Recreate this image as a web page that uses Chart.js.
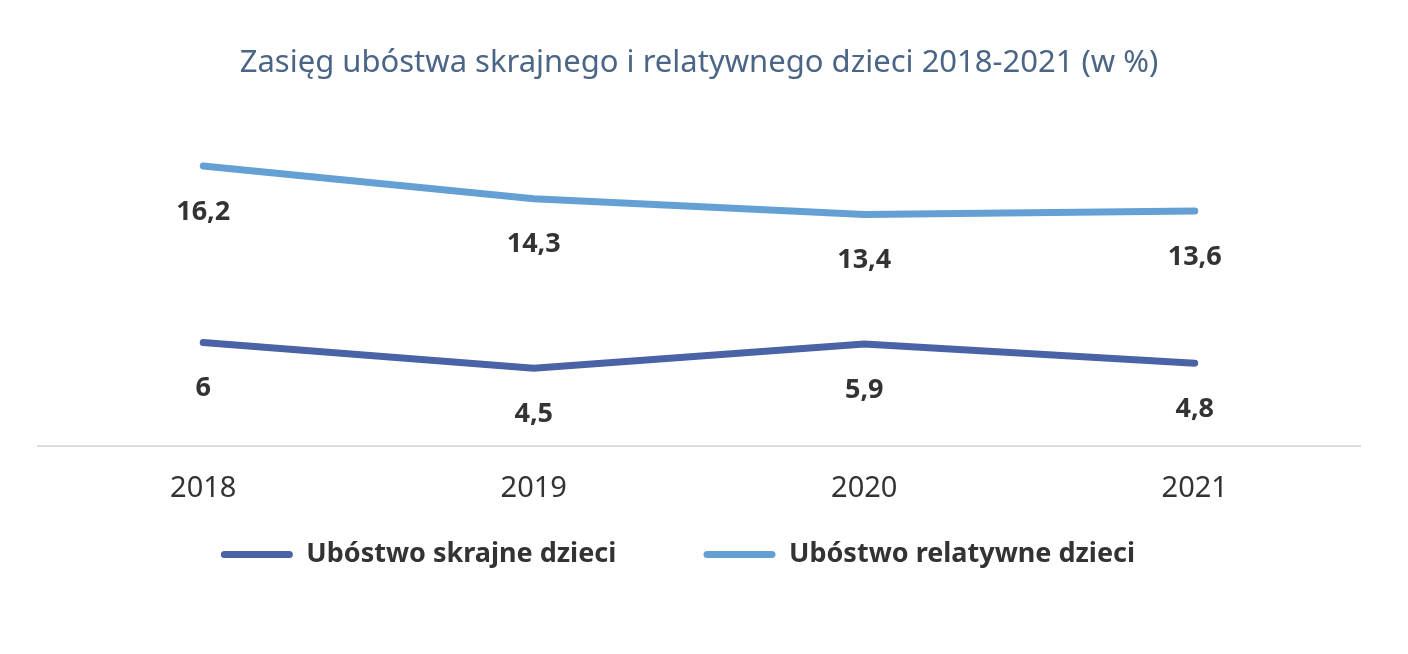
<!DOCTYPE html>
<html>
<head>
<meta charset="utf-8">
<script src="https://cdn.jsdelivr.net/npm/chart.js@4/dist/chart.umd.min.js"></script>
<style>
  html, body { margin: 0; padding: 0; background: #fff; }
  #wrap { width: 1408px; height: 654px; }
</style>
</head>
<body>
<div id="wrap"><canvas id="chart"></canvas></div>
<script>
// data
var years = ["2018", "2019", "2020", "2021"];
var skrajne = [6, 4.5, 5.9, 4.8];
var relatywne = [16.2, 14.3, 13.4, 13.6];
var seriesNames = ["Ubóstwo skrajne dzieci", "Ubóstwo relatywne dzieci"];

var darkBlue = "#4a62a6";
var lightBlue = "#64a0d4";

// value labels under each point
var valueLabels = {
  id: "valueLabels",
  afterDatasetsDraw: function (chart) {
    var ctx = chart.ctx;
    ctx.save();
    ctx.font = "bold 27px 'Noto Sans'";
    ctx.fillStyle = "#333333";
    ctx.textAlign = "center";
    ctx.textBaseline = "middle";
    chart.data.datasets.forEach(function (ds, i) {
      var meta = chart.getDatasetMeta(i);
      meta.data.forEach(function (pt, j) {
        var txt = String(ds.data[j]).replace(".", ",");
        ctx.fillText(txt, pt.x, pt.y + 46);
      });
    });
    ctx.restore();
  }
};

new Chart(document.getElementById("chart"), {
  type: "line",
  data: {
    labels: years,
    datasets: [
      {
        // trailing spaces keep the gap between the two legend items
        label: seriesNames[0] + "           ",
        data: skrajne,
        borderColor: darkBlue,
        backgroundColor: darkBlue,
        borderWidth: 7,
        borderCapStyle: "round",
        pointRadius: 0,
        tension: 0
      },
      {
        label: seriesNames[1] + "      ",
        data: relatywne,
        borderColor: lightBlue,
        backgroundColor: lightBlue,
        borderWidth: 7,
        borderCapStyle: "round",
        pointRadius: 0,
        tension: 0
      }
    ]
  },
  options: {
    responsive: true,
    maintainAspectRatio: false,
    animation: false,
    layout: { padding: { left: 38, right: 48, top: 0, bottom: 76 } },
    plugins: {
      title: {
        display: true,
        text: "Zasięg ubóstwa skrajnego i relatywnego dzieci 2018-2021 (w %)",
        color: "#4b6587",
        font: { family: "'Noto Sans'", size: 31, weight: "normal" },
        padding: { top: 45, bottom: 18 }
      },
      legend: {
        position: "bottom",
        labels: {
          boxWidth: 72,
          boxHeight: 7,
          useBorderRadius: true,
          borderRadius: 3.5,
          padding: 10,
          color: "#333333",
          font: { family: "'Noto Sans'", size: 27, weight: "bold" },
          generateLabels: function (chart) {
            var items = Chart.defaults.plugins.legend.labels.generateLabels(chart);
            items.forEach(function (it) { it.lineWidth = 0; });
            return items;
          }
        }
      },
      tooltip: { enabled: false }
    },
    scales: {
      x: {
        offset: true,
        grid: { display: false, drawTicks: false },
        border: { display: true, color: "#dddddd", width: 2 },
        ticks: {
          color: "#333333",
          padding: 25,
          font: { family: "'Noto Sans'", size: 29 }
        }
      },
      y: {
        display: false,
        min: 0,
        max: 20
      }
    }
  },
  plugins: [valueLabels]
});
</script>
</body>
</html>
